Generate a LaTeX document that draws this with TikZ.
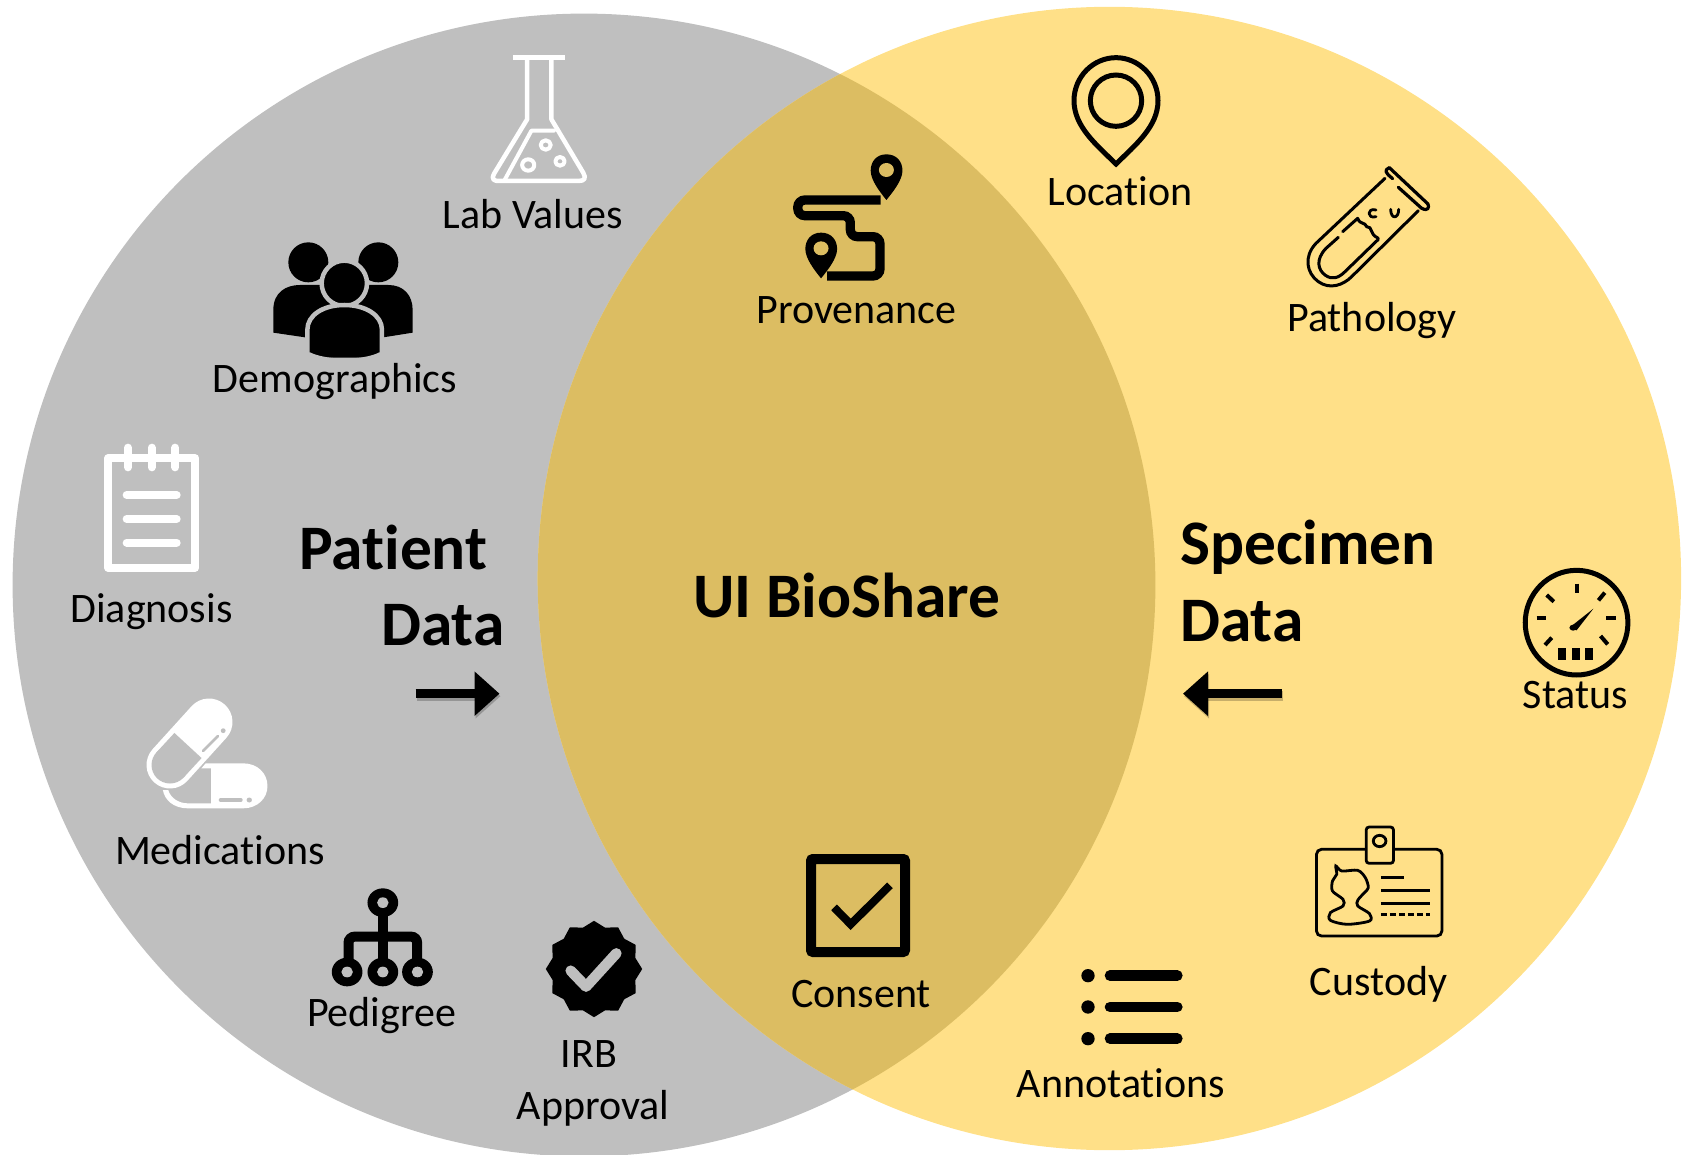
\documentclass[tikz,border=0pt]{standalone}
\usepackage{fontspec}
\setmainfont{Carlito}[Ligatures=NoCommon]
\usetikzlibrary{arrows.meta}
\definecolor{bgray}{HTML}{BFBFBF}
\definecolor{byellow}{HTML}{FFE088}
\definecolor{boverlap}{HTML}{DCBD62}
\tikzset{
  lab/.style={inner sep=0pt,anchor=base,text=black,font=\fontsize{42}{50}\selectfont},
  big/.style={inner sep=0pt,anchor=base west,text=black,font=\fontsize{63.4}{75}\selectfont\bfseries},
  zA/.style={shift={(420,20)},xscale=1/2.8,yscale=1/3},
  zB/.style={shift={(60,220)},xscale=1/3,yscale=1/3},
  zC/.style={shift={(120,680)},xscale=1/2.8,yscale=1/3},
  zD/.style={shift={(1020,30)},xscale=1/3,yscale=1/3},
  zE/.style={shift={(1000,541)},xscale=1/2.376,yscale=1/3},
  zF/.style={shift={(760,830)},xscale=1/3,yscale=1/3},
  wline/.style={draw=white,line width=#1,line cap=round,line join=round},
  kline/.style={draw=black,line width=#1,line cap=round,line join=round},
  fatarrow/.style={line width=9.5pt,-{Triangle[length=25pt,width=43pt]}},
}
\begin{document}
\begin{tikzpicture}[x=1pt,y=-1pt]
\useasboundingbox (0,0) rectangle (1687,1155);
\clip (0,0) rectangle (1687,1155);
% circles
\fill[bgray] (584,585) circle[radius=571.4];
\fill[byellow] (1109.4,578.5) circle[radius=571.7];
\begin{scope}
\clip (584,585) circle[radius=571.4];
\fill[boverlap] (1109.4,578.5) circle[radius=571.7];
\end{scope}
% flask
\begin{scope}[zA]
\draw[wline=4.5pt,line cap=butt] (260,112) -- (407,112);
\draw[wline=4.5pt] (300,118) -- (300,298) -- (208,460) .. controls (198,480) and (208,483) .. (223,483) -- (443,483) .. controls (461,483) and (466,475) .. (457,458) -- (368,298) -- (368,118);
\draw[wline=4pt] (238,478) -- (312,332) -- (375,332);
\draw[wline=4pt] (352,375) circle[radius=14];
\draw[wline=4pt] (392,424) circle[radius=13];
\draw[wline=4pt] (303,435) circle[radius=17];
\end{scope}
% provenance
\begin{scope}[zA]
\fill (1306,403) .. controls (1335,403) and (1351,425) .. (1351,452) .. controls (1351,480) and (1325,515) .. (1306,540) .. controls (1287,515) and (1262,480) .. (1262,452) .. controls (1262,425) and (1278,403) .. (1306,403) -- cycle;
\fill[boverlap] (1306,450) circle[radius=21];
\fill (1123,638) .. controls (1152,638) and (1168,660) .. (1168,687) .. controls (1168,715) and (1142,750) .. (1123,775) .. controls (1104,750) and (1079,715) .. (1079,687) .. controls (1079,660) and (1095,638) .. (1123,638) -- cycle;
\fill[boverlap] (1123,685) circle[radius=21];
\draw[black,line width=9.3pt,rounded corners=7pt] (1290,540) -- (1058,540) -- (1058,587) -- (1205,587) -- (1205,650) -- (1288,650) -- (1288,768) -- (1140,768);
\end{scope}
% demographics
\begin{scope}[zB]
\fill (745,127) circle[radius=60];
\fill (955,127) circle[radius=60];
\fill (640,338) -- (640,270) .. controls (640,215) and (680,195) .. (720,195) -- (985,195) .. controls (1030,195) and (1058,225) .. (1058,270) -- (1058,338) -- (970,352) -- (735,352) -- cycle;
\filldraw[draw=bgray,line width=4.5pt] (853,190) circle[radius=68];
\filldraw[draw=bgray,line width=4.5pt] (742,420) -- (742,330) .. controls (742,285) and (790,255) .. (853,255) .. controls (916,255) and (966,285) .. (966,330) -- (966,420) -- cycle;
\fill[bgray] (735,397) -- (750,397) .. controls (800,422) and (910,422) .. (958,397) -- (975,397) -- (975,430) -- (735,430) -- cycle;
\end{scope}
% notepad
\begin{scope}[zB]
\draw[white,line width=7.8pt,line join=round] (144,715) rectangle (406,1043);
\foreach \xx in {204,275,346} \draw[wline=8pt] (\xx,683) -- (\xx,742);
\foreach \yy in {825,897,968} \draw[wline=8pt] (200,\yy) -- (350,\yy);
\end{scope}
% pills
\draw[white,line width=47pt,line cap=round] (209,722) -- (170,765);
\draw[bgray,line width=37pt] (188,745.5) -- (170,765);
\fill[bgray] (170,765) circle[radius=18.5];
\draw[bgray,line width=2.6pt,line cap=round] (203,751) -- (218,736);
\fill[bgray] (223.2,730.7) circle[radius=2.4];
\begin{scope}[zC]
\fill[white] (228,265) -- (240,250) -- (345,250) .. controls (385,250) and (413,280) .. (413,318) .. controls (413,355) and (385,385) .. (345,385) -- (190,385) .. controls (150,385) and (125,360) .. (120,330) -- (135,330) .. controls (142,355) and (165,370) .. (190,370) -- (255,370) -- (255,265) -- cycle;
\draw[bgray,line width=4pt,line cap=round] (282,360) -- (338,360);
\fill[bgray] (362,360) circle[radius=7.5];
\end{scope}
% pedigree
\begin{scope}[zC]
\draw[black,line width=10pt] (736,700) -- (736,850);
\draw[black,line width=10pt,rounded corners=6pt] (640,850) -- (640,770) -- (832,770) -- (832,850);
\foreach \xx/\yy in {736/668,636/876,736/876,833/876} {
  \fill (\xx,\yy) circle[radius=43];
  \fill[bgray] (\xx,\yy) circle[radius=16];
}
\end{scope}
% IRB badge
\fill plot[samples=25,domain=0:360,variable=\t,shift={(594,969)}] ({(45.5+2.7*cos(12*\t))*cos(\t)},{(45.5+2.7*cos(12*\t))*sin(\t)}) -- cycle;
\begin{scope}[zC]
\draw[draw=bgray,line width=10.5pt,line cap=round,line join=round] (1262,872) -- (1305,920) -- (1390,820);
\end{scope}
% location
\begin{scope}[zD]
\draw[black,line width=5pt,line join=miter] (288,402) .. controls (230,345) and (162,290) .. (162,212) .. controls (162,140) and (220,83) .. (288,83) .. controls (356,83) and (414,140) .. (414,212) .. controls (414,290) and (346,345) .. (288,402) -- cycle;
\draw[black,line width=5pt] (288,212) circle[radius=77];
\end{scope}
% test tube
\begin{scope}[zD]
\draw[kline=3.2pt] (1108,413) -- (1224,522);
\draw[kline=3.2pt] (1108,413) .. controls (1092,420) and (1095,428) .. (1118,446);
\draw[kline=3.2pt] (1135,472) -- (1205,535) .. controls (1225,545) and (1228,532) .. (1224,522);
\draw[kline=3pt] (1095,445) -- (888,640) .. controls (850,680) and (860,730) .. (895,755) .. controls (930,780) and (970,765) .. (995,740) -- (1195,542);
\draw[kline=3pt] (955,622) -- (918,655) .. controls (885,690) and (895,720) .. (915,735) .. controls (935,750) and (955,745) .. (975,725) -- (1075,628);
\draw[kline=3pt] (968,605) -- (1013,565) .. controls (1020,585) and (1035,575) .. (1040,590) .. controls (1060,590) and (1045,610) .. (1075,625);
\draw[kline=2.8pt] (1068,540) .. controls (1040,532) and (1040,568) .. (1068,560);
\draw[kline=2.8pt] (1112,538) .. controls (1112,568) and (1136,568) .. (1136,538);
\end{scope}
% gauge
\begin{scope}[zE]
\draw[black,line width=5pt] (1370,245) circle[x radius=122,y radius=157];
\foreach \a/\b/\c/\d in {1370/128/1370/155, 1437/155/1422/178, 1275/230/1298/230, 1440/230/1463/230, 1299/162/1316/182, 1295/312/1311/290, 1444/310/1427/285}
  \draw[black,line width=4pt] (\a,\b) -- (\c,\d);
\fill (1410,203) -- (1370,268) -- (1355,258) -- cycle;
\fill (1362,260) circle[radius=9];
\fill (1325,320) rectangle (1345,358);
\fill (1358,320) rectangle (1378,358);
\fill (1390,320) rectangle (1408,358);
\end{scope}
% custody badge
\begin{scope}[zE]
\draw[black,line width=2.8pt,rounded corners=5pt] (752,925) rectangle (1050,1185);
\filldraw[fill=byellow,draw=black,line width=2.8pt,rounded corners=3pt] (870,858) rectangle (935,967);
\draw[black,line width=2.8pt] (902,900) circle[x radius=15,y radius=17];
\draw[black,line width=2.8pt] plot[smooth cycle] coordinates {(798,975) (812,990) (850,988) (868,1010) (875,1040) (862,1060) (850,1078) (850,1095) (878,1118) (878,1140) (825,1150) (785,1138) (785,1115) (815,1095) (815,1075) (790,1050) (790,1020) (800,1000)};
\draw[black,line width=2.8pt] (905,1010) -- (960,1010);
\draw[black,line width=2.8pt] (905,1048) -- (1022,1048);
\draw[black,line width=2.8pt] (905,1087) -- (1022,1087);
\draw[black,line width=2.8pt,dash pattern=on 6pt off 3pt] (905,1120) -- (1022,1120);
\end{scope}
% consent
\begin{scope}[zF]
\draw[black,line width=10pt,rounded corners=2pt] (153,87) rectangle (435,366);
\draw[black,line width=8pt] (222,232) -- (272,283) -- (390,166);
\end{scope}
% annotations
\begin{scope}[zF]
\foreach \yy in {437,531,626} {
  \fill (984,\yy) circle[radius=20];
  \draw[black,line width=10.6pt,line cap=round] (1050,\yy) -- (1252,\yy);
}
\end{scope}
% arrows
\coordinate (pa1) at (415.7,693.7);
\coordinate (pa2) at (499.5,693.7);
\coordinate (sa1) at (1282,693.7);
\coordinate (sa2) at (1183,693.7);
\draw[fatarrow,opacity=.22,transform canvas={shift={(1pt,-2.5pt)}}] (pa1) -- (pa2);
\draw[fatarrow,opacity=.22,transform canvas={shift={(1pt,-2.5pt)}}] (sa1) -- (sa2);
\draw[fatarrow] (pa1) -- (pa2);
\draw[fatarrow] (sa1) -- (sa2);
% labels
\node[lab] (lab) at (532.7,229) {Lab Values};
\node[lab] (prov) at (856.6,323.7) {Provenance};
\node[lab] (demo) at (335,393) {Demographics};
\node[lab] (diag) at (151.5,622) {Diagnosis};
\node[lab] (meds) at (220,864.7) {Medications};
\node[lab] (ped) at (381.6,1026) {Pedigree};
\node[lab] (irb) at (589,1067) {IRB};
\node[lab] (appr) at (593,1119) {Approval};
\node[lab] (loc) at (1120,206) {Location};
\node[lab] (path) at (1372,332) {Pathology};
\node[lab] (stat) at (1575.5,708.7) {Status};
\node[lab] (cust) at (1378.6,995) {Custody};
\node[lab] (cons) at (861,1007.7) {Consent};
\node[lab] (anno) at (1121,1097.7) {Annotations};
\node[big] (pat) at (299,569.7) {Patient};
\node[big] (pdata) at (381,645) {Data};
\node[big] (spec) at (1180,564.7) {Specimen};
\node[big] (sdata) at (1180,641.3) {Data};
\node[big,anchor=base] (ui) at (847,617) {UI BioShare};
\end{tikzpicture}
\end{document}
